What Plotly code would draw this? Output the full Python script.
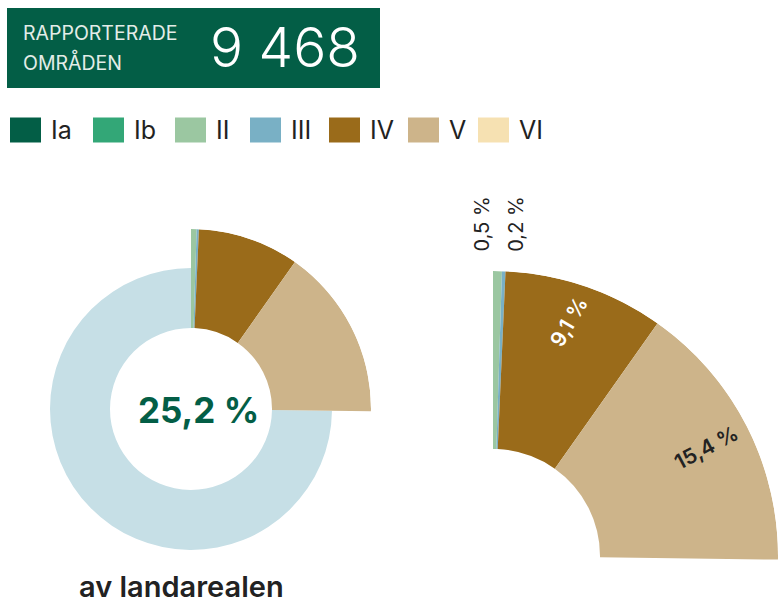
import math
import plotly.graph_objects as go

# ---------------- data ----------------
categories = ["Ia", "Ib", "II", "III", "IV", "V", "VI"]
shares = [0.0, 0.0, 0.5, 0.2, 9.1, 15.4, 0.0]          # % of land area
share_labels = ["", "", "0,5 %", "0,2 %", "9,1 %", "15,4 %", ""]
total_label = "25,2 %"
rest_share = 74.8                                        # remaining land area
reported_count = "9 468"
header_lines = ["RAPPORTERADE", "OMRÅDEN"]
subtitle = "av landarealen"

# ---------------- styles ----------------
colors = ["#035e46", "#33a777", "#9bc7a1", "#79b0c5", "#9a6b1a", "#cdb48a", "#f6e1b2"]
rest_color = "#c6dfe6"
dark_green = "#035e46"
text_dark = "#222222"
FONT = "Inter, Roboto, Noto Sans, sans-serif"

W, H = 778, 605

# left donut geometry (pixels)
L_CX, L_CY, L_R = 191, 409, 180
L_HOLE, L_RING = 81, 141
# right zoomed sector geometry (pixels)
R_CX, R_CY, R_R = 493, 556, 285
R_HOLE = 107

def sector_bbox(s0, s1):
    angs = [s0, s1] + [a for a in (0, 90, 180, 270, 360) if s0 < a < s1]
    xs = [math.cos(math.radians(a)) for a in angs] + [0]
    ys = [math.sin(math.radians(a)) for a in angs] + [0]
    return min(xs), max(xs), min(ys), max(ys)

def domain_for(cx, cy, R, sector):
    x0, x1, y0, y1 = sector_bbox(*sector)
    px0, px1 = cx + x0 * R, cx + x1 * R
    ptop, pbot = cy - y1 * R, cy - y0 * R
    return dict(x=[max(0, px0 / W), min(1, px1 / W)],
                y=[max(0, (H - pbot) / H), min(1, (H - ptop) / H)])

# cumulative angles
cum = 0.0
thetas, widths, cols, names = [], [], [], []
mid_angles = {}
for c, s, col in zip(categories, shares, colors):
    if s > 0:
        thetas.append((cum + s / 2) * 3.6)
        widths.append(s * 3.6)
        cols.append(col)
        names.append(c)
        mid_angles[c] = (cum + s / 2) * 3.6
    cum += s
total = cum

fig = go.Figure()

# left: rest of land ring
fig.add_trace(go.Barpolar(
    theta=[(total + rest_share / 2) * 3.6], width=[rest_share * 3.6],
    r=[(L_RING - L_HOLE) / L_R], base=[L_HOLE / L_R],
    marker=dict(color=rest_color, line=dict(width=0)),
    subplot="polar", showlegend=False, hoverinfo="skip"))
# left: protected categories
fig.add_trace(go.Barpolar(
    theta=thetas, width=widths,
    r=[(L_R - L_HOLE) / L_R] * len(thetas), base=[L_HOLE / L_R] * len(thetas),
    marker=dict(color=cols, line=dict(width=0)),
    subplot="polar", showlegend=False, hovertext=names))
# right: zoomed sector
fig.add_trace(go.Barpolar(
    theta=thetas, width=widths,
    r=[(R_R - R_HOLE) / R_R] * len(thetas), base=[R_HOLE / R_R] * len(thetas),
    marker=dict(color=cols, line=dict(width=0)),
    subplot="polar2", showlegend=False, hovertext=names))

right_sector = [-2, 91]
common_axes = dict(
    radialaxis=dict(visible=False, range=[0, 1]),
    angularaxis=dict(visible=False, rotation=90, direction="clockwise"),
    bgcolor="rgba(0,0,0,0)",
)
fig.update_layout(
    polar=dict(domain=domain_for(L_CX, L_CY, L_R, [0, 360]), **common_axes),
    polar2=dict(domain=domain_for(R_CX, R_CY, R_R, right_sector),
                sector=right_sector, **common_axes),
)

shapes = []
annotations = []

# header box
shapes.append(dict(type="rect", xref="paper", yref="paper",
                   x0=7 / W, x1=380 / W, y0=(H - 88) / H, y1=(H - 8) / H,
                   fillcolor=dark_green, line=dict(width=0), layer="below"))
for line, yc in zip(header_lines, [32.5, 62]):
    annotations.append(dict(text=line, x=21 / W, y=(H - yc) / H, xref="paper", yref="paper",
                            xanchor="left", yanchor="middle", showarrow=False,
                            font=dict(family=FONT, size=19.5, color="#e3ede8")))
annotations.append(dict(text=reported_count, x=285 / W, y=(H - 47) / H, xref="paper", yref="paper",
                        xanchor="center", yanchor="middle", showarrow=False,
                        font=dict(family=FONT, size=55, color="white", weight=300)))

# legend
LEGEND_X = [10, 93, 175, 250, 329, 408, 478]
LEG_Y = 130
for c, col, lx in zip(categories, colors, LEGEND_X):
    shapes.append(dict(type="rect", xref="paper", yref="paper",
                       x0=lx / W, x1=(lx + 31) / W, y0=(H - LEG_Y - 12.5) / H, y1=(H - LEG_Y + 12.5) / H,
                       fillcolor=col, line=dict(width=0)))
    annotations.append(dict(text=c, x=(lx + 39) / W, y=(H - LEG_Y) / H, xref="paper", yref="paper",
                            xanchor="left", yanchor="middle", showarrow=False,
                            font=dict(family=FONT, size=25, color=text_dark)))

# centre and subtitle
annotations.append(dict(text=total_label, x=198 / W, y=(H - 410) / H, xref="paper", yref="paper",
                        xanchor="center", yanchor="middle", showarrow=False,
                        font=dict(family=FONT, size=35, color=dark_green, weight=700)))
annotations.append(dict(text=subtitle, x=181 / W, y=0, xref="paper", yref="paper",
                        xanchor="center", yanchor="bottom", showarrow=False, borderpad=0,
                        font=dict(family=FONT, size=29, color=text_dark, weight=600)))

def rpoint(frac, theta):
    px = R_CX + frac * R_R * math.sin(math.radians(theta))
    py = R_CY - frac * R_R * math.cos(math.radians(theta))
    return px / W, (H - py) / H

# small slivers labels (above the sector)
small = [(c, l) for c, s, l in zip(categories, shares, share_labels) if 0 < s < 1]
for i, (c, l) in enumerate(small):
    px, _ = rpoint(1.0, mid_angles[c])
    px = px * W + (-15 if i == 0 else 12)
    annotations.append(dict(text=l, x=px / W, y=(H - 224) / H, xref="paper", yref="paper",
                            xanchor="center", yanchor="middle", showarrow=False, textangle=-90,
                            font=dict(family=FONT, size=20, color=text_dark)))
# large labels inside
big_style = {"IV": ("white", -60, 0.865), "V": (text_dark, -28, 0.84)}
for c, s, l in zip(categories, shares, share_labels):
    if s >= 1:
        col, ang, frac = big_style.get(c, (text_dark, 0, 0.84))
        x, y = rpoint(frac, mid_angles[c] - (1.0 if c == "IV" else 0))
        annotations.append(dict(text=l, x=x, y=y, xref="paper", yref="paper",
                                xanchor="center", yanchor="middle", showarrow=False, textangle=ang,
                                font=dict(family=FONT, size=21, color=col, weight=600)))

fig.update_layout(
    width=W, height=H, margin=dict(l=0, r=0, t=0, b=0),
    paper_bgcolor="white", plot_bgcolor="white",
    shapes=shapes, annotations=annotations, showlegend=False,
)

fig.write_html("out.html", config={"displayModeBar": False},
               post_script="document.body.style.margin='0';document.body.style.overflow='hidden';")
